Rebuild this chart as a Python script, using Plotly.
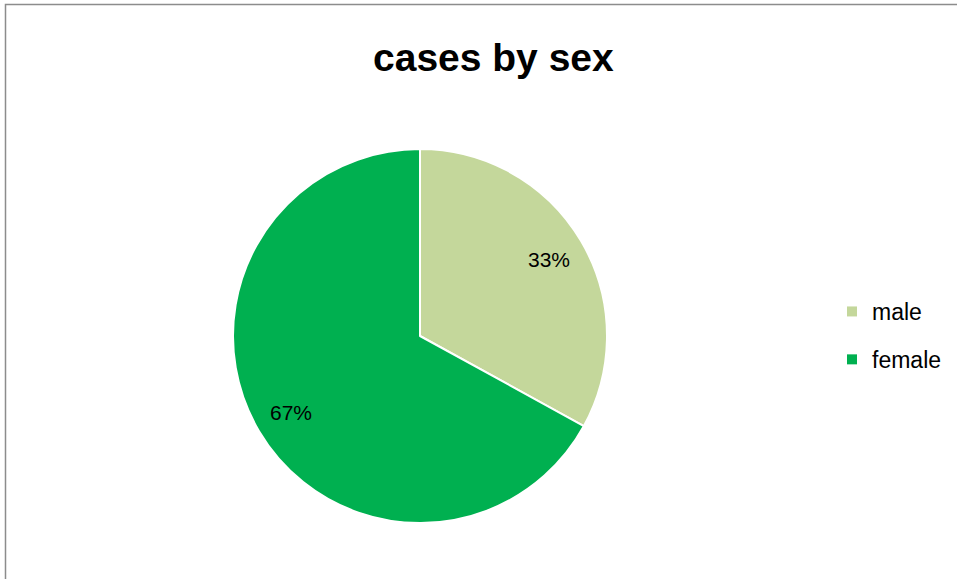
import math
import plotly.graph_objects as go

categories = ["male", "female"]
values = [33, 67]
colors = ["#C4D79B", "#00B050"]

W, H = 957, 579
cx, cy, R = 420, 336, 187  # pie placement in px

fig = go.Figure()
fig.add_trace(go.Pie(
    labels=categories, values=values, sort=False, direction="clockwise", rotation=0,
    marker=dict(colors=colors, line=dict(color="white", width=2)),
    textinfo="none", showlegend=False,
    domain=dict(x=[(cx-R)/W, (cx+R)/W], y=[1-(cy+R)/H, 1-(cy-R)/H]),
    hoverinfo="label+percent",
))

# legend entries (square swatches)
for i, (c, col) in enumerate(zip(categories, colors)):
    fig.add_trace(go.Scatter(x=[None], y=[None], mode="markers", name=c,
                             marker=dict(symbol="square", size=10, color=col),
                             legendgroup=c, showlegend=True, hoverinfo="skip"))

# percentage labels placed along each slice's mid angle
total = sum(values)
annotations = []
acc = 0
for v in values:
    mid = (acc + v / 2) / total * 2 * math.pi
    acc += v
    r = 0.8 * R
    px = cx + r * math.sin(mid)
    py = cy - r * math.cos(mid)
    annotations.append(dict(text=f"{round(v / total * 100)}%", x=px / W, y=1 - py / H,
                            xref="paper", yref="paper", showarrow=False,
                            xanchor="center", yanchor="middle",
                            font=dict(family="Liberation Sans", size=21, color="black")))

annotations.append(dict(text="<b>cases by sex</b>", x=493/W, y=1-58/H, xref="paper", yref="paper",
                        xanchor="center", yanchor="middle", showarrow=False,
                        font=dict(family="Liberation Sans", size=39, color="black")))

fig.update_layout(
    width=W, height=H, margin=dict(l=0, r=0, t=0, b=0),
    paper_bgcolor="white", plot_bgcolor="white",
    xaxis=dict(visible=False), yaxis=dict(visible=False),
    showlegend=True,
    legend=dict(x=832/W, y=1-290/H, xanchor="left", yanchor="top",
                font=dict(family="Liberation Sans", size=23, color="black"),
                itemwidth=30, tracegroupgap=15, bgcolor="rgba(0,0,0,0)"),
    annotations=annotations,
    shapes=[dict(type="rect", xref="paper", yref="paper", x0=5.5/W, y0=-0.05, x1=1.05, y1=1-4.5/H,
                 line=dict(color="#8c8c8c", width=1.5), fillcolor="rgba(0,0,0,0)")],
)
fig.write_html("out.html", config={"displayModeBar": False},
               post_script="document.body.style.margin='0px';")
